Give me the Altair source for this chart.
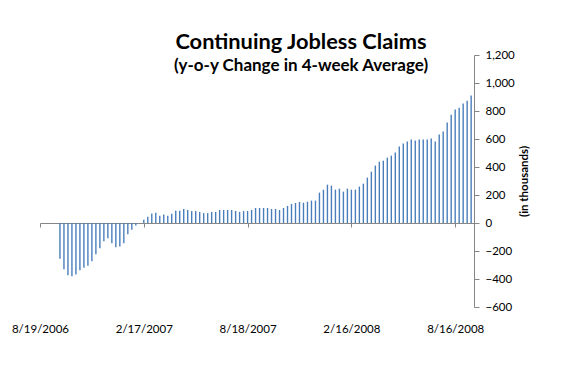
import altair as alt
import pandas as pd

# weekly y-o-y change in 4-week average of continuing claims (thousands)
first_week = "2006-09-23"
values = [
    -255, -331, -374, -381, -367, -338, -319, -305, -274, -224,
    -181, -131, -109, -145, -174, -167, -145, -81, -48, -17, 0,
    24, 45, 67, 74, 52, 60, 52, 66, 88, 88,
    100, 93, 86, 86, 79, 71, 71, 79, 79, 93, 93, 93, 93, 86, 79,
    86, 86, 93, 107, 107, 107, 107, 100, 100, 93, 107, 122, 136, 143, 150,
    145, 152, 160, 160, 217, 238, 274, 267, 238, 245, 224, 245, 238, 238,
    260, 281, 324, 367, 410, 438, 445, 467, 481, 503, 546, 567, 582, 596,
    589, 596, 596, 596, 603, 582, 632, 653, 717, 774, 810, 824, 853, 874, 910,
]
x_tick_dates = [(2006, 8, 19), (2007, 2, 17), (2007, 8, 18), (2008, 2, 16), (2008, 8, 16)]
x_domain = [(2006, 8, 19), (2008, 9, 18)]
y_ticks = [-600, -400, -200, 0, 200, 400, 600, 800, 1000, 1200]

dates = pd.date_range(first_week, periods=len(values), freq="7D")
df = pd.DataFrame({"date": dates, "value": values})

def dt(t):
    return alt.DateTime(year=t[0], month=t[1], date=t[2])

FONT = "Lato"
AXIS_GRAY = "#868686"
PLOT_H = 252

chart = (
    alt.Chart(df)
    .mark_rule(color="#4A7EBB", strokeWidth=1.4)
    .encode(
        x=alt.X(
            "date:T",
            scale=alt.Scale(domain=[dt(d) for d in x_domain]),
            axis=alt.Axis(
                values=[dt(d) for d in x_tick_dates],
                format="%-m/%-d/%Y",
                offset=-84,
                tickSize=4,
                labelPadding=96,
                labelFlush=False,
                labelOverlap=False,
                grid=False,
                title=None,
                domainColor=AXIS_GRAY,
                tickColor=AXIS_GRAY,
                labelFont=FONT,
                labelFontSize=11.5,
                labelFontWeight="normal",
                labelColor="black",
            ),
        ),
        y=alt.Y(
            "value:Q",
            scale=alt.Scale(domain=[-600, 1200], nice=False),
            axis=alt.Axis(
                orient="right",
                values=y_ticks,
                format=",.0f",
                grid=False,
                tickSize=5,
                labelPadding=6,
                domainColor=AXIS_GRAY,
                tickColor=AXIS_GRAY,
                labelFont=FONT,
                labelFontSize=11.5,
                labelFontWeight="normal",
                labelColor="black",
                title="(in thousands)",
                titleAngle=270,
                titleBaseline="top",
                titlePadding=4,
                titleFont=FONT,
                titleFontSize=11.5,
                titleFontWeight="bold",
                titleColor="black",
            ),
        ),
        y2=alt.datum(0),
    )
    .properties(
        width=434,
        height=PLOT_H,
        autosize=alt.AutoSizeParams(type="none"),
        padding={"left": 32, "top": 47, "right": 80, "bottom": 64},
        title=alt.Title(
            "Continuing Jobless Claims",
            subtitle="(y-o-y Change in 4-week Average)",
            font=FONT,
            fontSize=21.8,
            fontWeight="bold",
            color="black",
            subtitleFont=FONT,
            subtitleFontSize=17,
            subtitleFontWeight="bold",
            subtitleColor="black",
            subtitlePadding=4,
            anchor="middle",
            frame="group",
            offset=0,
            dx=44,
            dy=25,
        ),
    )
    .configure_view(strokeWidth=0)
)

chart.save("out.html", embed_options={"renderer": "svg", "actions": False})
